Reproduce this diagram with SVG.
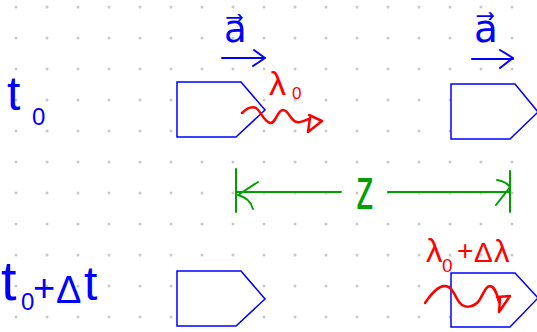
<svg xmlns="http://www.w3.org/2000/svg" width="537" height="332" viewBox="0 0 537 332">
  <style>
    .body { fill: #ffffff; stroke: #0000ff; stroke-width: 1.5; stroke-linejoin: miter; }
    .blue { fill: #0000ff; font-family: "Liberation Sans", "DejaVu Sans", sans-serif; }
    .red { fill: #ff0000; font-family: "Liberation Sans", "DejaVu Sans", sans-serif; }
    .green { fill: #00a000; font-family: "Liberation Sans", "DejaVu Sans", sans-serif; }
    .bl { fill: none; stroke: #0000ff; stroke-width: 2; stroke-linecap: round; stroke-linejoin: round; }
    .rl { fill: none; stroke: #ff0000; stroke-width: 2.5; stroke-linecap: round; stroke-linejoin: round; }
    .gl { fill: none; stroke: #00a000; stroke-width: 2; stroke-linecap: round; stroke-linejoin: round; }
  </style>
  <defs>
    <pattern id="dots" width="31" height="31" patternUnits="userSpaceOnUse">
      <circle cx="16" cy="7" r="1.5" fill="#c8c8c8"/>
    </pattern>
  </defs>
  <rect x="0" y="0" width="537" height="332" fill="#ffffff"/>
  <rect x="0" y="0" width="537" height="332" fill="url(#dots)"/>

  <g id="label-t0">
    <text class="blue"><tspan x="7" y="110" font-size="48">t</tspan><tspan x="32" y="125" font-size="24">0</tspan></text>
  </g>
  <g id="label-t0-dt">
    <text class="blue"><tspan x="1" y="300" font-size="56">t</tspan><tspan x="21" y="310" font-size="24">0</tspan><tspan x="33" y="301" font-size="38">+</tspan><tspan x="56" y="303" font-size="38">Δ</tspan><tspan x="84" y="300" font-size="48">t</tspan></text>
  </g>

  <g id="ship-top-left">
    <polygon class="body" points="177,82 241,82 265,110 236,137 177,137"/>
  </g>
  <g id="ship-top-right">
    <polygon class="body" points="451,84 515,84 538,112 510,139 451,139"/>
  </g>
  <g id="ship-bottom-left">
    <polygon class="body" points="177,271 241,271 265,299 236,326 177,326"/>
  </g>
  <g id="ship-bottom-right">
    <polygon class="body" points="451,273 515,273 538,298 510,327 451,327"/>
  </g>

  <g id="label-a-left">
    <text class="blue" x="224" y="42" font-size="37" font-family="DejaVu Sans, sans-serif">a⃗</text>
  </g>
  <g id="label-a-right">
    <text class="blue" x="474" y="42" font-size="39" font-family="DejaVu Sans, sans-serif">a⃗</text>
  </g>
  <g id="label-lambda0">
    <text class="red"><tspan x="269" y="95" font-size="34">λ</tspan><tspan x="292" y="99" font-size="17">0</tspan></text>
  </g>
  <g id="label-lambda0-dl">
    <text class="red"><tspan x="426" y="262" font-size="33">λ</tspan><tspan x="442" y="272" font-size="19">0</tspan><tspan x="457" y="260" font-size="28">+</tspan><tspan x="474" y="262" font-size="28">Δ</tspan><tspan x="494" y="262" font-size="31">λ</tspan></text>
  </g>
  <g id="label-z">
    <text class="green" transform="translate(356,209) scale(0.9,1.5)" font-size="40">z</text>
  </g>

  <g id="connectors">
    <path class="bl" d="M222,58 L265,58 M254,50 L265,58 L253,66"/>
    <path class="bl" d="M472,59 L513,59 M500,50 L513,58 L500,68"/>
    <path class="rl" d="M242,113 C247,108 252,106 256,108 C261,111 263,121 270,123 C276,124 277,110 283,110 C289,110 290,121 297,122 C302,123 305,120 309,119"/>
    <path class="rl" d="M309,115 L322,121 L308,132 L310,118"/>
    <path class="rl" d="M425,303 C432,293 438,286 445,286 C453,286 455,298 460,303 C464,308 472,308 478,302 C483,296 485,286 490,286 C496,287 497,296 499,302"/>
    <path class="rl" d="M497,297 L510,296 L499,312 L500,299"/>
    <path class="gl" d="M236,169 L236,212 M237,192 L341,192 M388,192 L510,192 M510,171 L510,212"/>
    <path class="gl" d="M258,182 L238,195 Q250,198 253,209"/>
    <path class="gl" d="M497,180 Q507,182 510,187 L496,205"/>
  </g>
</svg>
